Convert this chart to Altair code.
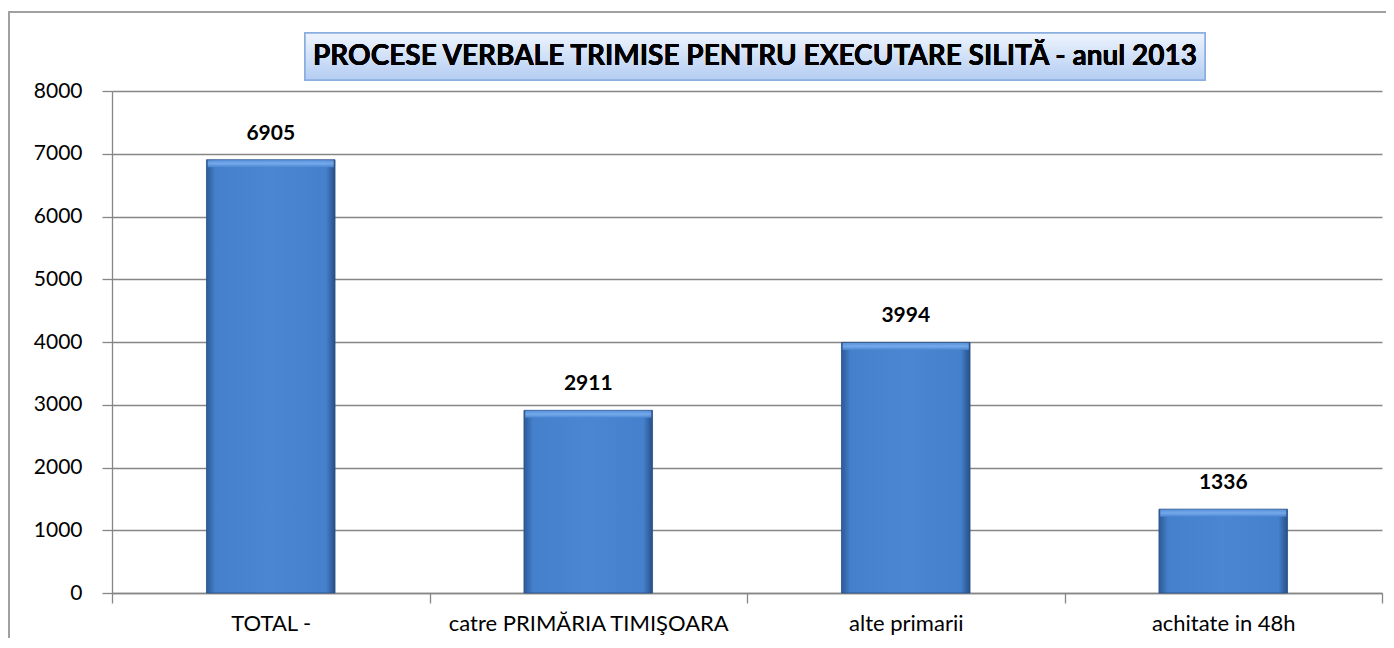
import altair as alt
import pandas as pd

categories = ["TOTAL -", "catre PRIMĂRIA TIMIŞOARA", "alte primarii", "achitate in 48h"]
values = [6905, 2911, 3994, 1336]
title_text = "PROCESE VERBALE TRIMISE PENTRU EXECUTARE SILITĂ - anul 2013"
y_ticks = [0, 1000, 2000, 3000, 4000, 5000, 6000, 7000, 8000]

df = pd.DataFrame({"cat": categories, "val": values})

W, H = 1270, 502
PL, PT, PR, PB = 104, 83, 4, 45
FONT = "Lato"

bar_fill = alt.Gradient(
    gradient="linear",
    x1=0, x2=1, y1=0, y2=0,
    stops=[
        alt.GradientStop(offset=0, color="#2c5a96"),
        alt.GradientStop(offset=0.07, color="#4580cc"),
        alt.GradientStop(offset=0.5, color="#4a86d2"),
        alt.GradientStop(offset=0.93, color="#4580cc"),
        alt.GradientStop(offset=1, color="#274f86"),
    ],
)

bevel_fill = alt.Gradient(
    gradient="linear",
    x1=0, x2=0, y1=0, y2=1,
    stops=[
        alt.GradientStop(offset=0, color="#5d95dd"),
        alt.GradientStop(offset=0.5, color="#7aaeee"),
        alt.GradientStop(offset=1, color="#4a86d2"),
    ],
)

box_fill = alt.Gradient(
    gradient="linear",
    x1=0, x2=0, y1=0, y2=1,
    stops=[
        alt.GradientStop(offset=0, color="#eef4fd"),
        alt.GradientStop(offset=1, color="#b4cdf2"),
    ],
)

x_enc = alt.X(
    "cat:N",
    sort=categories,
    scale=alt.Scale(paddingInner=0, paddingOuter=0),
    axis=alt.Axis(
        title=None, labelAngle=0, tickBand="extent", tickSize=10,
        tickColor="#868686", domainColor="#868686", labelFontSize=22,
        labelFont=FONT, labelColor="#000000", labelPadding=10, grid=False,
        labelLimit=0,
    ),
)
y_enc = alt.Y(
    "val:Q",
    scale=alt.Scale(domain=[0, 8000]),
    axis=alt.Axis(
        title=None, values=y_ticks, tickSize=10, tickColor="#868686", format="d",
        domainColor="#868686", gridColor="#868686", gridWidth=1.3,
        labelFontSize=21, labelFont=FONT, labelColor="#000000", labelPadding=20,
    ),
)

base = alt.Chart(df)

bars = base.mark_bar(
    fill=bar_fill, stroke="#2a5288", strokeWidth=0.8,
    width=alt.RelativeBandSize(0.405),
).encode(x=x_enc, y=y_enc)

bevel = base.mark_tick(
    fill=bevel_fill, orient="horizontal", thickness=7, size=126, yOffset=4,
    opacity=0.9,
).encode(x=x_enc, y=y_enc)

labels = base.mark_text(
    fontWeight="bold", fontSize=21, font=FONT, color="#000000",
    baseline="alphabetic", dy=-20,
).encode(x=x_enc, y=y_enc, text="val:Q")

box = base.mark_rect(fill=box_fill, stroke="#8aaee0", strokeWidth=1.5).encode(
    x=alt.value(193), x2=alt.value(1093), y=alt.value(-58), y2=alt.value(-11)
)
title = base.mark_text(
    text=title_text, fontWeight="bold", fontSize=28, font=FONT, color="#000000",
    align="center", baseline="middle",
).encode(x=alt.value(643), y=alt.value(-34))

border = base.mark_rect(fill=None, stroke="#a0a0a0", strokeWidth=1.5).encode(
    x=alt.value(-PL + 1), x2=alt.value(W + PR + 20),
    y=alt.value(-PT + 4), y2=alt.value(H + PB + 20),
)

chart = alt.layer(border, bars, bevel, labels, box, title).properties(
    width=W, height=H,
    autosize=alt.AutoSizeParams(type="none"),
    padding={"left": PL, "top": PT, "right": PR, "bottom": PB},
).configure_view(stroke=None).configure_axis(domainWidth=1.3, tickWidth=1.3)

chart.save("out.html", embed_options={"renderer": "svg", "actions": False})
